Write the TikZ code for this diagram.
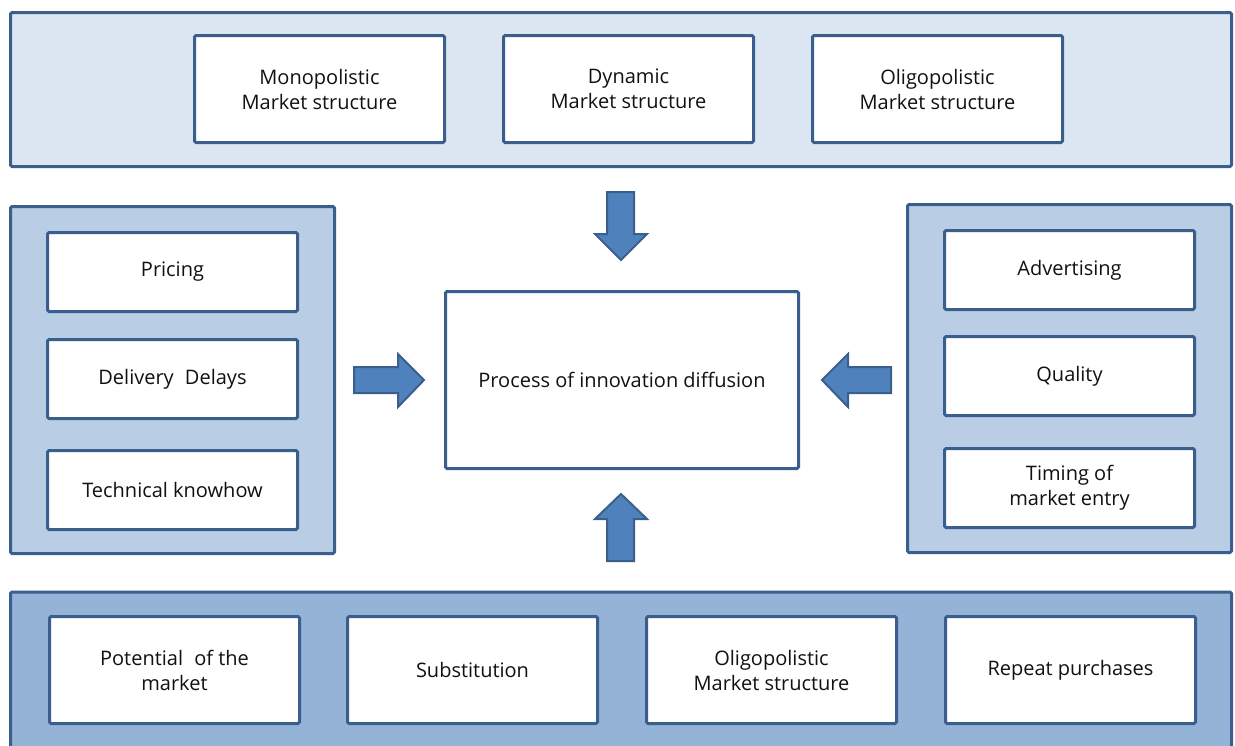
\documentclass[tikz,border=0pt]{standalone}
\usepackage{fontspec}
\setmainfont{Open Sans}
\definecolor{edge}{HTML}{3B5F8D}
\definecolor{paleblue}{HTML}{DCE6F2}
\definecolor{midblue}{HTML}{B9CDE5}
\definecolor{deepblue}{HTML}{95B3D7}
\definecolor{arrowblue}{HTML}{4F81BD}
\definecolor{ink}{HTML}{111111}
\tikzset{
  panel/.style={draw=edge, line width=3pt, rounded corners=1.5pt, inner sep=0pt},
  itembox/.style={draw=edge, fill=white, line width=3pt, rounded corners=1.5pt,
    minimum width=250pt, align=center, text=ink,
    font=\fontsize{20}{25}\selectfont},
  blockarrow/.style={draw=edge, fill=arrowblue, line width=2pt, line join=miter}
}
\begin{document}
\begin{tikzpicture}[x=1pt, y=-1pt]
\useasboundingbox (0,0) rectangle (1235,745);
\begin{scope}
\clip (0,0) rectangle (1235,745);

% outer groups
\node[panel, fill=paleblue, minimum width=1221pt, minimum height=154pt] (toppanel) at (621,89.5) {};
\node[panel, fill=midblue, minimum width=324pt, minimum height=347pt] (leftpanel) at (172.5,380) {};
\node[panel, fill=midblue, minimum width=324pt, minimum height=348pt] (rightpanel) at (1069.5,378.5) {};
\node[panel, fill=deepblue, minimum width=1221pt, minimum height=170pt] (botpanel) at (621,677) {};

% market structure row
\node[itembox, minimum height=107pt] (mono) at (319.5,89) {Monopolistic\\Market structure};
\node[itembox, minimum height=107pt] (dyn) at (628.5,89) {Dynamic\\Market structure};
\node[itembox, minimum height=107pt] (oligo) at (937.5,89) {Oligopolistic\\Market structure};

% left factors
\node[itembox, minimum height=79pt] (pricing) at (172.5,272) {Pricing};
\node[itembox, minimum height=79pt] (delays) at (172.5,379) {Delivery\hspace{0.3em} Delays};
\node[itembox, minimum height=79pt] (knowhow) at (172.5,490) {Technical knowhow};

% right factors
\node[itembox, minimum height=79pt] (advert) at (1069.5,270) {Advertising};
\node[itembox, minimum height=79pt] (quality) at (1069.5,376) {Quality};
\node[itembox, minimum height=79pt] (timing) at (1069.5,488) {Timing of\\market entry};

% bottom factors
\node[itembox, minimum height=107pt] (potential) at (174.5,670) {Potential\hspace{0.3em} of the\\market};
\node[itembox, minimum height=107pt] (subst) at (472.5,670) {Substitution};
\node[itembox, minimum height=107pt] (oligob) at (771.5,670) {Oligopolistic\\Market structure};
\node[itembox, minimum height=107pt] (repeat) at (1070.5,670) {Repeat purchases};

% central process
\node[itembox, minimum width=353pt, minimum height=177pt] (center) at (622,380) {Process of innovation diffusion};

% block arrows pointing into the central process
\draw[blockarrow] (607,192) -- (634,192) -- (634,234) -- (647,234) -- (621,260)
  -- (595,234) -- (607,234) -- cycle;
\draw[blockarrow] (607,561) -- (634,561) -- (634,519) -- (647,519) -- (621,494)
  -- (595,519) -- (607,519) -- cycle;
\draw[blockarrow] (354,367) -- (398,367) -- (398,354) -- (424,380) -- (398,407)
  -- (398,393) -- (354,393) -- cycle;
\draw[blockarrow] (891,367) -- (848,367) -- (848,354) -- (822,380) -- (848,407)
  -- (848,393) -- (891,393) -- cycle;
\end{scope}
\end{tikzpicture}
\end{document}
